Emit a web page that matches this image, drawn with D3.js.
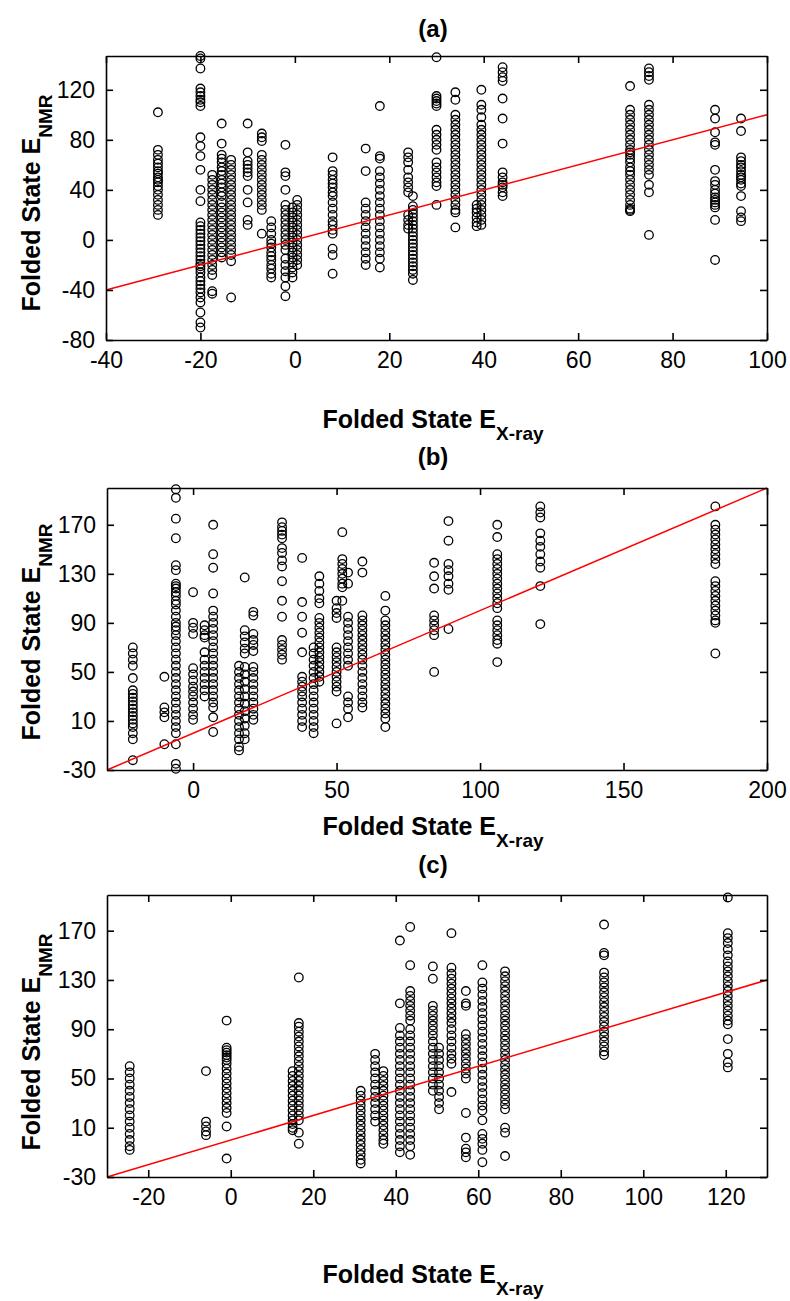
<!DOCTYPE html>
<html lang="en">
<head>
<meta charset="UTF-8">
<title>Folded State E NMR vs X-ray</title>
<script src="https://cdn.jsdelivr.net/npm/d3@7"></script>
<style>
  body { margin: 0; background: #fff; }
  text { font-family: "Liberation Sans", Arial, sans-serif; }
</style>
</head>
<body>
<script>
// ---- panel (a) : x column, then the y values read in that column
var xColsA = [-29, -20, -17.5, -15.5, -13.5, -10, -7, -5, -2, -0.5, 0.5, 8, 15, 18, 24, 25, 30, 34, 38.5, 39.5, 44, 71, 75, 89, 94.5];
var yColsA = [
  [102, 72, 68, 64, 61, 58, 55, 53, 50, 48, 46, 43, 40, 36, 32, 28, 24, 20],
  [147, 145, 137, 121, 118, 115, 112, 110, 107, 82, 75, 67, 56, 40, 31, 14, 11, 8, 5, 2, -1, -4, -7, -10, -13, -16, -19, -21, -23, -26, -30, -33, -36, -39, -42, -46, -50, -58, -66, -70],
  [52, 48, 44, 40, 36, 32, 28, 24, 20, 16, 12, 8, 4, 0, -4, -8, -12, -16, -20, -24, -28, -41, -43],
  [93, 77, 68, 65, 62, 58, 55, 52, 48, 45, 42, 38, 35, 30, 26, 22, 18, 14, 10, 6, 2, -2, -6, -10, -14],
  [64, 60, 56, 52, 48, 44, 40, 36, 32, 28, 24, 20, 16, 12, 8, 4, 0, -4, -8, -12, -17, -46],
  [93, 70, 63, 60, 57, 54, 51, 40, 30, 16, 12],
  [85, 82, 79, 68, 64, 60, 56, 52, 48, 44, 40, 36, 32, 28, 24, 5],
  [15, 10, 5, 0, -3, -6, -10, -13, -16, -20, -23, -27, -30],
  [76, 54, 51, 40, 28, 24, 20, 16, 12, 8, 4, 0, -4, -8, -15, -20, -25, -30, -37, -45],
  [26, 22, 18, 14, 10, 6, 2, -2, -6, -10, -14, -18, -22, -26, -30],
  [32, 28, 24, 20, 16, 12, 8, 4, 0, -4, -8, -12, -16, -20],
  [66, 55, 52, 48, 45, 42, 38, 35, 30, 25, 20, 15, 12, 8, 5, -7, -12, -27],
  [73, 55, 30, 25, 20, 15, 10, 5, 0, -5, -10, -15, -20],
  [107, 67, 65, 55, 50, 45, 40, 35, 30, 25, 20, 15, 10, 5, 0, -5, -10, -15, -22],
  [70, 66, 62, 56, 50, 46, 42, 38, 20, 16, 12, 9],
  [35, 27, 24, 21, 18, 15, 12, 9, 6, 3, 0, -3, -6, -9, -12, -15, -18, -21, -24, -27, -32],
  [146, 115, 113, 111, 109, 107, 88, 84, 80, 76, 72, 62, 58, 54, 50, 46, 43, 28],
  [118, 112, 100, 96, 92, 88, 84, 80, 76, 72, 68, 64, 60, 56, 52, 48, 44, 40, 36, 32, 28, 24, 22, 10],
  [28, 25, 22, 18, 14, 11],
  [120, 108, 104, 98, 92, 88, 84, 80, 76, 72, 68, 64, 60, 56, 52, 48, 44, 40, 36, 32, 28, 24, 20, 16, 12],
  [138, 134, 130, 127, 113, 97, 77, 54, 50, 46, 44, 42, 38, 35],
  [123, 104, 100, 96, 92, 88, 84, 80, 76, 72, 70, 68, 65, 62, 58, 55, 52, 48, 44, 40, 36, 32, 28, 25, 24, 23],
  [137, 134, 131, 128, 108, 104, 100, 96, 92, 88, 84, 80, 76, 72, 68, 64, 60, 56, 52, 44, 38, 4],
  [104, 97, 86, 78, 76, 56, 47, 44, 40, 37, 34, 32, 30, 28, 26, 16, -16],
  [97, 87, 66, 63, 60, 58, 55, 52, 50, 48, 45, 43, 35, 23, 18, 15]
];
var xTicksA = [-40, -20, 0, 20, 40, 60, 80, 100];
var yTicksA = [-80, -40, 0, 40, 80, 120];

// ---- panel (b)
var xColsB = [-21, -10, -6, 0, 4, 7, 16, 18, 21, 31, 38, 42, 44, 50, 52, 54, 59, 67, 84, 89, 106, 121, 182];
var yColsB = [
  [70, 65, 60, 55, 45, 35, 32, 29, 26, 23, 20, 17, 14, 11, 8, 5, 0, -5, -22],
  [46, 21, 17, 13, -9],
  [199, 192, 175, 159, 137, 133, 122, 120, 118, 115, 112, 108, 105, 100, 95, 90, 87, 84, 80, 75, 70, 65, 60, 55, 50, 45, 40, 35, 30, 25, 20, 15, 10, 5, 0, -9, -25, -29],
  [115, 90, 86, 81, 53, 48, 43, 38, 34, 30, 25, 20, 15, 11],
  [88, 84, 80, 78, 66, 60, 55, 50, 45, 40, 35, 30],
  [170, 146, 135, 114, 100, 95, 90, 85, 80, 75, 70, 65, 60, 55, 50, 45, 40, 35, 30, 25, 21, 13, 1],
  [55, 50, 45, 40, 35, 30, 25, 20, 15, 10, 5, 0, -5, -11, -14],
  [127, 84, 79, 74, 69, 65, 54, 48, 42, 36, 30, 24, 18, 12, 6, 0, -5],
  [99, 96, 81, 76, 72, 67, 54, 50, 45, 40, 35, 30, 25, 20, 15, 11],
  [172, 168, 165, 162, 159, 151, 147, 141, 136, 124, 108, 95, 76, 72, 68, 64, 60],
  [143, 107, 95, 82, 66, 46, 42, 38, 34, 30, 25, 20, 15, 10, 5],
  [70, 65, 60, 55, 50, 45, 40, 35, 30, 25, 20, 15, 10, 5, 0],
  [128, 122, 116, 110, 106, 94, 90, 86, 82, 78, 74, 70, 66, 62, 58, 54, 50, 46, 42],
  [108, 102, 98, 94, 70, 66, 62, 58, 54, 50, 46, 42, 38, 34, 8],
  [164, 142, 138, 134, 130, 126, 122, 119, 108],
  [131, 122, 95, 90, 85, 80, 75, 70, 65, 60, 55, 30, 25, 20, 13],
  [140, 131, 96, 92, 88, 84, 80, 76, 72, 68, 64, 60, 55, 50, 45, 40, 35, 30, 25, 21],
  [112, 100, 92, 88, 84, 80, 76, 72, 68, 64, 60, 56, 52, 48, 44, 40, 36, 32, 28, 24, 20, 16, 12, 5],
  [139, 128, 118, 96, 92, 88, 84, 80, 50],
  [173, 157, 138, 133, 128, 122, 117, 85],
  [170, 160, 146, 142, 138, 134, 130, 126, 122, 118, 114, 110, 106, 102, 92, 88, 84, 80, 76, 73, 58],
  [185, 180, 176, 163, 157, 152, 146, 140, 135, 120, 89],
  [185, 170, 166, 162, 158, 154, 150, 146, 142, 138, 124, 120, 116, 112, 108, 104, 100, 96, 92, 90, 65]
];
var xTicksB = [0, 50, 100, 150, 200];
var yTicksB = [-30, 10, 50, 90, 130, 170];

// ---- panel (c)
var xColsC = [-24.5, -6, -1, 15, 16.5, 31.5, 35, 37, 41, 43.5, 49, 50.5, 53.5, 57, 61, 66.5, 90.5, 120.5];
var yColsC = [
  [60, 55, 50, 45, 40, 35, 30, 25, 20, 15, 10, 5, 0, -5, -8],
  [56, 15, 11, 7, 4],
  [97, 75, 73, 71, 69, 67, 65, 62, 58, 54, 50, 46, 42, 38, 34, 30, 26, 22, 11, -15],
  [56, 52, 48, 44, 40, 36, 32, 28, 24, 20, 16, 13, 10, 8],
  [132, 95, 92, 88, 84, 80, 76, 72, 68, 64, 60, 56, 52, 48, 44, 40, 36, 32, 28, 24, 20, 16, 6, -3],
  [40, 36, 32, 28, 24, 20, 16, 12, 8, 4, 0, -4, -8, -12, -16, -19],
  [70, 65, 60, 55, 50, 45, 40, 35, 30, 25, 20, 15],
  [56, 52, 48, 44, 40, 36, 32, 28, 24, 20, 16, 12, 8, 4, 0, -3],
  [162, 111, 91, 85, 80, 75, 70, 65, 60, 55, 50, 45, 40, 35, 30, 25, 20, 15, 10, 5, 0, -5, -10],
  [173, 142, 121, 117, 113, 109, 105, 101, 97, 90, 85, 80, 75, 70, 65, 60, 55, 50, 45, 40, 35, 30, 25, 20, 15, 10, 5, 0, -5, -12],
  [141, 131, 109, 105, 101, 97, 93, 89, 85, 80, 75, 70, 65, 60, 55, 50, 45, 40],
  [75, 70, 65, 60, 55, 50, 45, 40, 35, 30, 25],
  [168, 140, 135, 131, 127, 123, 119, 115, 111, 107, 103, 99, 95, 90, 85, 80, 75, 70, 66, 62, 39],
  [121, 111, 109, 86, 82, 78, 74, 70, 66, 62, 58, 54, 50, 22, 2, -7, -10, -14],
  [142, 128, 123, 118, 113, 108, 103, 98, 93, 88, 83, 78, 73, 68, 63, 58, 53, 48, 43, 38, 33, 28, 24, 16, 5, 1, -3, -8, -18],
  [137, 133, 129, 125, 121, 117, 113, 109, 105, 101, 97, 93, 89, 85, 81, 77, 73, 69, 65, 61, 57, 53, 49, 45, 41, 37, 33, 29, 25, 10, 6, -13],
  [175, 152, 150, 136, 132, 128, 124, 120, 116, 112, 108, 104, 100, 96, 92, 88, 84, 80, 76, 72, 69],
  [197, 168, 164, 160, 155, 150, 145, 141, 137, 133, 129, 125, 121, 117, 113, 109, 105, 101, 97, 94, 82, 70, 63, 59]
];
var xTicksC = [-20, 0, 20, 40, 60, 80, 100, 120];
var yTicksC = [-30, 10, 50, 90, 130, 170];

var w = 790;
var h = 1301;

var svg = d3.select('body')
            .append('svg')
            .attr('width', w)
            .attr('height', h);

var panels = [
  { title: '(a)', xCols: xColsA, yCols: yColsA, xTicks: xTicksA, yTicks: yTicksA,
    xDom: [-40, 100], yDom: [-80, 147],
    left: 106, right: 767, top: 56, bottom: 340, titleY: 37, xLabelY: 428, yLabelY: 203 },
  { title: '(b)', xCols: xColsB, yCols: yColsB, xTicks: xTicksB, yTicks: yTicksB,
    xDom: [-30, 200], yDom: [-30, 200],
    left: 107, right: 767, top: 488, bottom: 770, titleY: 465, xLabelY: 835, yLabelY: 632 },
  { title: '(c)', xCols: xColsC, yCols: yColsC, xTicks: xTicksC, yTicks: yTicksC,
    xDom: [-30, 130], yDom: [-30, 199],
    left: 107, right: 767, top: 895, bottom: 1177, titleY: 873, xLabelY: 1283, yLabelY: 1042 }
];

// plain hyphen for negatives, like the original figure
var fmt = d => String(d);

panels.forEach(drawPanel);

function drawPanel(p) {
  var x = d3.scaleLinear().domain(p.xDom).range([p.left, p.right]);
  var y = d3.scaleLinear().domain(p.yDom).range([p.bottom, p.top]);

  // flatten columns into points
  var pts = [];
  p.xCols.forEach(function(xv, i) {
    p.yCols[i].forEach(function(yv) { pts.push([xv, yv]); });
  });

  var g = svg.append('g');

  g.selectAll('circle')
    .data(pts)
    .enter()
    .append('circle')
    .attr('cx', d => x(d[0]))
    .attr('cy', d => y(d[1]))
    .attr('r', 4.3)
    .attr('fill', 'none')
    .attr('stroke', '#000')
    .attr('stroke-width', 1.3);

  // y = x line across the box
  var lo = Math.max(p.xDom[0], p.yDom[0]);
  var hi = Math.min(p.xDom[1], p.yDom[1]);
  g.append('line')
    .attr('x1', x(lo)).attr('y1', y(lo))
    .attr('x2', x(hi)).attr('y2', y(hi))
    .attr('stroke', '#ff0000')
    .attr('stroke-width', 1.5);

  // box with inward ticks on all four sides
  var axes = [
    [d3.axisBottom(x).tickValues(p.xTicks).tickFormat(fmt).tickPadding(12), 'translate(0,' + p.bottom + ')'],
    [d3.axisTop(x).tickValues(p.xTicks).tickFormat(''), 'translate(0,' + p.top + ')'],
    [d3.axisLeft(y).tickValues(p.yTicks).tickFormat(fmt).tickPadding(11), 'translate(' + p.left + ',0)'],
    [d3.axisRight(y).tickValues(p.yTicks).tickFormat(''), 'translate(' + p.right + ',0)']
  ];
  axes.forEach(function(a) {
    var ax = g.append('g')
      .attr('transform', a[1])
      .call(a[0].tickSizeInner(-7).tickSizeOuter(0))
      .attr('font-size', 23)
      .attr('font-family', '"Liberation Sans", Arial, sans-serif');
    ax.selectAll('path, line').attr('stroke', '#000').attr('stroke-width', 1.6);
    ax.selectAll('text').attr('fill', '#000');
  });

  // title
  g.append('text')
    .attr('x', 433)
    .attr('y', p.titleY)
    .attr('text-anchor', 'middle')
    .attr('font-weight', 'bold')
    .attr('font-size', 24)
    .text(p.title);

  // x label with subscript
  var xl = g.append('text')
    .attr('x', 433)
    .attr('y', p.xLabelY)
    .attr('text-anchor', 'middle')
    .attr('font-weight', 'bold')
    .attr('font-size', 25);
  xl.append('tspan').text('Folded State E');
  xl.append('tspan').attr('font-size', 19).attr('dy', 12).text('X-ray');

  // y label with subscript
  var yl = g.append('text')
    .attr('transform', 'translate(40,' + p.yLabelY + ') rotate(-90)')
    .attr('text-anchor', 'middle')
    .attr('font-weight', 'bold')
    .attr('font-size', 25);
  yl.append('tspan').text('Folded State E');
  yl.append('tspan').attr('font-size', 19).attr('dy', 12).text('NMR');
}
</script>
</body>
</html>
